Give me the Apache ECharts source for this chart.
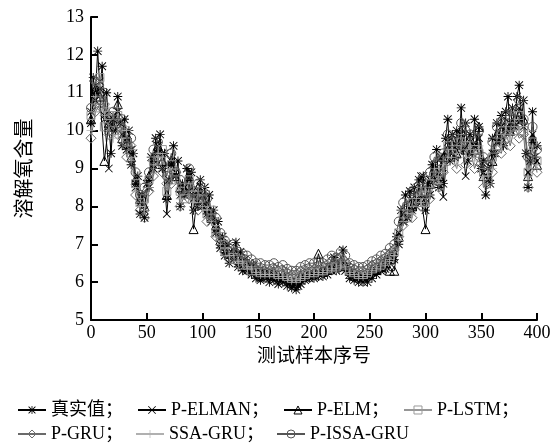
<!DOCTYPE html>
<html lang="zh">
<head>
    <meta charset="UTF-8">
    <title>溶解氧含量预测</title>
    <script src="https://cdn.jsdelivr.net/npm/echarts@6/dist/echarts.min.js"></script>
    <style>
        html, body { margin: 0; padding: 0; background: #fff; }
        #chart { width: 560px; height: 443px; }
    </style>
</head>
<body>
<div id="chart"></div>
<script>
    // 真实值：每 2 个样本取一点
    const trueStep = 2;
    const trueVals = [
        10.2, 11.4, 11.0, 12.1, 11.1, 11.7, 10.4, 11.0, 10.1, 9.4,
        10.3, 10.0, 10.9, 10.2, 9.6, 10.3, 9.5, 10.0, 9.1, 9.4,
        8.6, 8.8, 7.8, 8.3, 7.7, 8.6, 8.5, 9.3, 9.0, 9.8,
        9.4, 9.9, 9.0, 9.4, 8.2, 8.7, 9.1, 9.6, 8.8, 9.2,
        8.0, 8.6, 8.3, 9.0, 8.4, 8.9, 7.9, 8.3, 8.0, 8.7,
        8.0, 8.5, 7.8, 8.3, 7.6, 7.9, 7.3, 7.6, 6.9, 7.2,
        6.7, 7.0, 6.5, 6.8, 6.6, 7.05, 6.4, 6.8, 6.3, 6.6,
        6.3, 6.5, 6.2, 6.45, 6.1, 6.3, 6.05, 6.3, 6.1, 6.2,
        6.0, 6.2, 6.05, 6.15, 5.95, 6.1, 6.0, 6.1, 5.9, 6.0,
        5.85, 5.95, 5.8, 5.9, 5.95, 6.1, 6.05, 6.2, 6.1, 6.2,
        6.1, 6.25, 6.15, 6.3, 6.15, 6.3, 6.2, 6.4, 6.3, 6.65,
        6.3, 6.5, 6.4, 6.85, 6.3, 6.4, 6.1, 6.25, 6.05, 6.2,
        6.0, 6.15, 6.0, 6.1, 6.0, 6.2, 6.1, 6.3, 6.2, 6.4,
        6.3, 6.5, 6.35, 6.6, 6.5, 6.75, 6.6, 7.2, 7.0, 7.9,
        7.6, 8.3, 7.7, 8.4, 7.9, 8.5, 8.0, 8.7, 8.1, 8.8,
        7.9, 8.6, 8.3, 9.1, 8.7, 9.5, 8.5, 9.3, 8.6, 9.8,
        10.3, 9.2, 9.9, 9.3, 10.0, 9.6, 10.6, 9.5, 10.2, 9.2,
        9.9, 9.4, 10.3, 9.6, 10.1, 9.0, 9.2, 8.3, 9.0, 8.6,
        9.8, 9.4, 10.2, 9.7, 10.4, 9.6, 10.5, 10.9, 10.0, 10.6,
        10.1, 10.9, 11.2, 10.3, 10.8, 9.4, 8.5, 9.2, 10.5, 9.3,
        9.6
    ];

    // 各模型预测值：每 4 个样本取一点
    const predStep = 4;
    const elmanVals = [
        10.5, 10.8, 11.3, 10.3, 9.0, 10.4, 10.5, 9.9, 9.8, 9.5,
        8.5, 8.1, 7.9, 8.7, 9.1, 9.6, 9.4, 7.8, 9.2, 8.9,
        8.3, 8.5, 8.9, 8.2, 8.4, 8.3, 7.9, 7.8, 7.4, 7.0,
        6.8, 6.7, 6.7, 6.5, 6.45, 6.35, 6.25, 6.2, 6.1, 6.15,
        6.1, 6.15, 6.05, 6.1, 6.0, 5.95, 5.95, 6.05, 6.1, 6.15,
        6.15, 6.25, 6.25, 6.3, 6.4, 6.35, 6.5, 6.4, 6.2, 6.15,
        6.1, 6.1, 6.15, 6.25, 6.3, 6.35, 6.45, 6.55, 6.65, 7.3,
        7.8, 7.7, 8.2, 8.2, 8.8, 8.2, 8.7, 9.1, 8.9, 8.25,
        9.7, 9.5, 9.6, 9.9, 8.8, 9.7, 9.6, 9.8, 8.9, 8.7,
        9.4, 9.7, 10.1, 10.0, 10.2, 10.2, 10.6, 10.1, 8.9, 9.9,
        9.2
    ];
    const elmVals = [
        10.3, 11.1, 10.9, 9.2, 10.2, 10.1, 10.7, 9.8, 9.9, 9.3,
        8.7, 8.2, 8.0, 8.8, 9.3, 9.6, 9.2, 8.3, 9.2, 8.8,
        8.5, 8.4, 8.8, 7.4, 8.5, 8.2, 8.0, 7.7, 7.5, 7.1,
        6.9, 6.75, 6.8, 6.6, 6.5, 6.5, 6.35, 6.3, 6.2, 6.25,
        6.2, 6.25, 6.15, 6.2, 6.1, 6.05, 6.05, 6.15, 6.2, 6.25,
        6.25, 6.75, 6.3, 6.35, 6.45, 6.4, 6.55, 6.45, 6.3, 6.2,
        6.15, 6.15, 6.2, 6.3, 6.35, 6.4, 6.5, 6.3, 6.3, 7.2,
        7.7, 7.9, 8.0, 8.3, 8.2, 7.4, 8.6, 9.0, 8.8, 9.3,
        9.5, 9.8, 9.4, 10.0, 9.5, 9.8, 9.5, 10.1, 8.8, 8.8,
        9.2, 9.9, 9.8, 10.2, 10.0, 10.3, 10.4, 10.3, 8.8, 9.8,
        9.1
    ];
    const lstmVals = [
        10.4, 10.6, 11.4, 10.1, 10.4, 10.0, 10.4, 9.9, 9.7, 9.4,
        8.6, 8.1, 8.2, 8.7, 9.2, 9.2, 9.5, 8.4, 9.1, 8.7,
        8.4, 8.2, 8.7, 8.3, 8.2, 8.4, 7.8, 7.9, 7.3, 7.2,
        6.8, 6.8, 6.6, 6.6, 6.45, 6.45, 6.3, 6.3, 6.25, 6.25,
        6.25, 6.25, 6.2, 6.2, 6.15, 6.1, 6.1, 6.15, 6.2, 6.25,
        6.25, 6.3, 6.3, 6.35, 6.4, 6.4, 6.5, 6.45, 6.3, 6.25,
        6.2, 6.2, 6.25, 6.35, 6.4, 6.45, 6.55, 6.65, 6.8, 7.3,
        7.8, 7.7, 8.1, 8.1, 8.4, 8.1, 8.6, 8.8, 8.9, 9.0,
        9.6, 9.4, 9.5, 9.7, 9.6, 9.4, 9.5, 9.4, 8.9, 8.7,
        9.3, 9.6, 10.0, 9.8, 10.1, 10.0, 10.4, 10.0, 8.9, 9.7,
        9.2
    ];
    const gruVals = [
        9.8, 10.5, 10.7, 10.7, 9.9, 10.2, 9.9, 10.1, 9.3, 9.6,
        8.3, 7.9, 7.7, 8.4, 8.8, 9.3, 8.9, 8.6, 8.6, 8.9,
        8.0, 8.3, 8.2, 8.2, 7.9, 8.2, 7.6, 7.7, 7.2, 7.1,
        6.8, 6.6, 6.7, 6.5, 6.55, 6.45, 6.4, 6.35, 6.35, 6.3,
        6.3, 6.35, 6.3, 6.3, 6.25, 6.2, 6.2, 6.3, 6.3, 6.35,
        6.35, 6.4, 6.4, 6.45, 6.55, 6.5, 6.65, 6.55, 6.4, 6.35,
        6.3, 6.3, 6.35, 6.45, 6.5, 6.55, 6.65, 6.75, 6.85, 7.2,
        7.5, 7.8, 7.7, 8.2, 8.0, 8.3, 8.2, 8.7, 8.5, 8.9,
        9.2, 9.3, 9.0, 9.6, 9.1, 9.5, 9.0, 9.3, 8.5, 8.6,
        8.9, 9.5, 9.4, 9.9, 9.6, 10.1, 9.8, 9.9, 8.5, 9.3,
        8.9
    ];
    const ssaGruVals = [
        10.0, 10.9, 11.2, 10.4, 10.6, 9.8, 10.6, 9.7, 10.0, 9.2,
        8.4, 8.0, 7.9, 8.5, 9.0, 9.4, 9.3, 8.3, 8.9, 9.0,
        8.2, 8.6, 8.4, 8.1, 8.4, 8.0, 7.9, 7.6, 7.5, 7.0,
        6.9, 6.7, 6.75, 6.55, 6.5, 6.4, 6.35, 6.25, 6.2, 6.2,
        6.2, 6.2, 6.15, 6.15, 6.1, 6.05, 6.05, 6.1, 6.15, 6.2,
        6.2, 6.25, 6.25, 6.3, 6.35, 6.35, 6.45, 6.4, 6.25, 6.2,
        6.15, 6.15, 6.2, 6.3, 6.35, 6.4, 6.5, 6.6, 6.7, 7.1,
        7.6, 7.9, 7.8, 8.3, 8.1, 8.4, 8.3, 9.0, 8.6, 9.2,
        9.3, 9.6, 9.1, 9.9, 9.3, 9.7, 9.2, 9.6, 8.7, 8.9,
        9.0, 9.8, 9.6, 10.1, 9.8, 10.3, 10.0, 10.2, 8.7, 9.5,
        9.0
    ];
    const issaGruVals = [
        10.6, 11.3, 10.8, 11.0, 10.0, 10.5, 10.2, 10.3, 9.6, 9.8,
        8.9, 8.3, 8.5, 8.9, 9.5, 9.7, 9.1, 8.8, 9.4, 8.9,
        8.7, 8.5, 9.0, 8.4, 8.6, 8.3, 8.2, 7.8, 7.7, 7.3,
        7.1, 6.9, 7.0, 6.8, 6.75, 6.7, 6.6, 6.5, 6.5, 6.45,
        6.45, 6.5, 6.4, 6.45, 6.35, 6.3, 6.3, 6.4, 6.45, 6.5,
        6.5, 6.55, 6.5, 6.6, 6.7, 6.65, 6.8, 6.7, 6.5, 6.45,
        6.4, 6.4, 6.45, 6.55, 6.6, 6.7, 6.75, 6.9, 7.0, 7.6,
        8.1, 8.0, 8.4, 8.5, 8.7, 8.4, 8.9, 9.3, 9.2, 9.4,
        9.9, 9.7, 9.8, 10.2, 10.0, 9.9, 9.8, 10.0, 9.3, 9.1,
        9.7, 10.1, 10.2, 10.4, 10.4, 10.5, 10.8, 10.3, 9.3, 10.1,
        9.5
    ];

    const yTicks = [5, 13, 1];      // min, max, interval
    const xTicks = [0, 400, 50];

    // 自定义符号（由细条拼成）
    const starPath = 'path://M4.5 0L5.5 0L5.5 10L4.5 10Z M0 4.5L10 4.5L10 5.5L0 5.5Z M1.1 0.4L9.6 8.9L8.9 9.6L0.4 1.1Z M8.9 0.4L9.6 1.1L1.1 9.6L0.4 8.9Z';
    const crossPath = 'path://M1.1 0.4L9.6 8.9L8.9 9.6L0.4 1.1Z M8.9 0.4L9.6 1.1L1.1 9.6L0.4 8.9Z';
    const plusPath = 'path://M4.6 0L5.4 0L5.4 10L4.6 10Z M0 4.6L10 4.6L10 5.4L0 5.4Z';

    function toPairs(vals, step) {
        return vals.map((v, i) => [i * step, v]);
    }

    const fontLatin = '"Liberation Serif", "Times New Roman", "Noto Sans CJK SC", serif';
    const clear = 'rgba(0,0,0,0)';

    function lineSeries(name, vals, step, color, symbol, size, hollow) {
        return {
            name: name,
            type: 'line',
            data: toPairs(vals, step),
            symbol: symbol,
            symbolSize: size,
            symbolKeepAspect: true,
            showAllSymbol: true,
            animation: false,
            lineStyle: { color: color, width: 1 },
            itemStyle: hollow
                ? { color: clear, borderColor: color, borderWidth: 1 }
                : { color: color, borderWidth: 0 },
            emphasis: { disabled: true }
        };
    }

    function hollowItem(name, color) {
        return { name: name, itemStyle: { color: clear, borderColor: color, borderWidth: 1 } };
    }

    const chart = echarts.init(document.getElementById('chart'));

    const legendText = { fontFamily: fontLatin, fontSize: 18, color: '#000' };

    const option = {
        backgroundColor: '#fff',
        animation: false,
        grid: { left: 91, right: 23, top: 17, bottom: 123 },
        legend: [
            {
                data: ['真实值', 'P-ELMAN', hollowItem('P-ELM', '#000'), hollowItem('P-LSTM', '#9a9a9a')],
                left: 12, top: 396,
                itemWidth: 28, itemHeight: 10, itemGap: 14,
                textStyle: legendText,
                formatter: n => n + '；'
            },
            {
                data: [hollowItem('P-GRU', '#6e6e6e'), 'SSA-GRU', hollowItem('P-ISSA-GRU', '#555')],
                left: 12, top: 420,
                itemWidth: 28, itemHeight: 10, itemGap: 12,
                textStyle: legendText,
                formatter: n => n === 'P-ISSA-GRU' ? n : n + '；'
            }
        ],
        xAxis: {
            type: 'value',
            min: xTicks[0], max: xTicks[1], interval: xTicks[2],
            name: '测试样本序号',
            nameLocation: 'middle',
            nameGap: 28,
            nameTextStyle: { fontFamily: fontLatin, fontSize: 19, color: '#000' },
            axisLine: { lineStyle: { color: '#000', width: 2 } },
            axisTick: { inside: true, length: 7, lineStyle: { color: '#000', width: 2 } },
            axisLabel: { color: '#000', fontFamily: fontLatin, fontSize: 18, margin: 4 },
            splitLine: { show: false }
        },
        yAxis: {
            type: 'value',
            min: yTicks[0], max: yTicks[1], interval: yTicks[2],
            name: '溶解氧含量',
            nameLocation: 'middle',
            nameRotate: 90,
            nameGap: 55,
            nameTextStyle: { fontFamily: fontLatin, fontSize: 20, color: '#000' },
            axisLine: { show: true, lineStyle: { color: '#000', width: 2 } },
            axisTick: { show: true, inside: true, length: 7, lineStyle: { color: '#000', width: 2 } },
            axisLabel: { color: '#000', fontFamily: fontLatin, fontSize: 18, margin: 7 },
            splitLine: { show: false }
        },
        series: [
            lineSeries('真实值', trueVals, trueStep, '#000', starPath, 9, false),
            lineSeries('P-ELMAN', elmanVals, predStep, '#000', crossPath, 8, false),
            lineSeries('P-ELM', elmVals, predStep, '#000', 'triangle', 9, true),
            lineSeries('P-LSTM', lstmVals, predStep, '#969696', 'rect', 8, true),
            lineSeries('P-GRU', gruVals, predStep, '#6a6a6a', 'diamond', 10, true),
            lineSeries('SSA-GRU', ssaGruVals, predStep, '#b0b0b0', plusPath, 9, false),
            lineSeries('P-ISSA-GRU', issaGruVals, predStep, '#555', 'circle', 9, true)
        ]
    };

    chart.setOption(option);
</script>
</body>
</html>
